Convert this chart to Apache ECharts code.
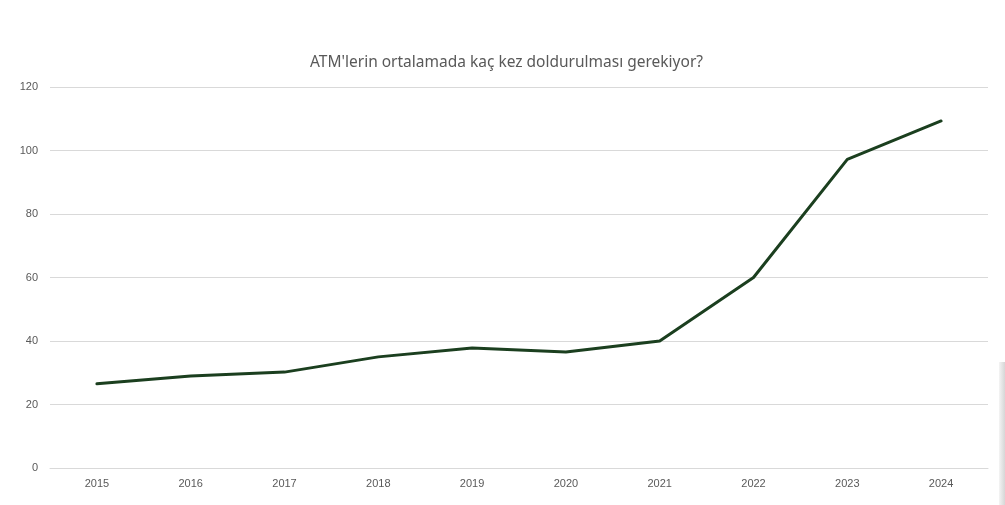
<!DOCTYPE html>
<html>
<head>
<meta charset="utf-8">
<script src="https://cdn.jsdelivr.net/npm/echarts@6/dist/echarts.min.js"></script>
<style>
html,body{margin:0;padding:0;background:#fff;}
#c{width:1005px;height:505px;}
</style>
</head>
<body>
<div id="c"></div>
<script>
const categories = ['2015','2016','2017','2018','2019','2020','2021','2022','2023','2024'];
const values = [26.5, 29, 30.2, 35, 37.8, 36.5, 40, 60, 97.2, 109.3];
const yTicks = [0, 20, 40, 60, 80, 100, 120];
const titleText = "ATM'lerin ortalamada kaç kez doldurulması gerekiyor?";

const chart = echarts.init(document.getElementById('c'), null, {renderer: 'canvas'});
chart.setOption({
  animation: false,
  backgroundColor: '#ffffff',
  title: {
    text: titleText,
    left: 310,
    top: 55,
    padding: 0,
    textStyle: {fontFamily: 'Noto Sans', fontSize: 15.5, fontWeight: 'normal', color: '#595959'}
  },
  grid: {left: 50, right: 17, top: 87, bottom: 37, containLabel: false},
  xAxis: {
    type: 'category',
    data: categories,
    boundaryGap: true,
    axisLine: {show: true, lineStyle: {color: '#d9d9d9', width: 1}},
    axisTick: {show: false},
    axisLabel: {color: '#595959', fontSize: 11, fontFamily: 'Liberation Sans', margin: 10}
  },
  yAxis: {
    type: 'value',
    min: yTicks[0],
    max: yTicks[yTicks.length - 1],
    interval: 20,
    axisLine: {show: false},
    axisTick: {show: false},
    axisLabel: {color: '#595959', fontSize: 11, fontFamily: 'Liberation Sans', margin: 12},
    splitLine: {lineStyle: {color: '#d9d9d9', width: 1}}
  },
  series: [{
    type: 'line',
    data: values,
    symbol: 'none',
    lineStyle: {color: '#1b3f1f', width: 3, cap: 'round', join: 'round'}
  }],
  graphic: [{
    type: 'rect',
    shape: {x: 999, y: 362, width: 6, height: 143},
    style: {fill: new echarts.graphic.LinearGradient(0, 0, 1, 0, [{offset: 0, color: '#f4f4f4'}, {offset: 1, color: '#d6d6d6'}])},
    silent: true
  }]
});
</script>
</body>
</html>
